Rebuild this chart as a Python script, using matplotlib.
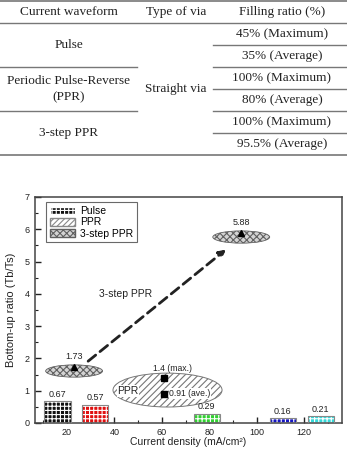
import matplotlib
matplotlib.use("Agg")
import matplotlib.pyplot as plt
from matplotlib.patches import Ellipse, Patch
from matplotlib.ticker import MultipleLocator

plt.rcParams["hatch.linewidth"] = 0.8

# ---------------- table data ----------------
table_header = ["Current waveform", "Type of via", "Filling ratio (%)"]
waveforms = ["Pulse", "Periodic Pulse-Reverse\n(PPR)", "3-step PPR"]
via_type = "Straight via"
filling = ["45% (Maximum)", "35% (Average)", "100% (Maximum)", "80% (Average)",
           "100% (Maximum)", "95.5% (Average)"]

# ---------------- chart data ----------------
bar_density = [16, 32, 79, 111, 127]
bar_ratio = [0.67, 0.57, 0.29, 0.16, 0.21]
bar_colors = ["#111111", "#e01010", "#30d030", "#1515c0", "#35d8d8"]
bar_labels = ["0.67", "0.57", "0.29", "0.16", "0.21"]

step3_density = [23, 93.5]
step3_ratio = [1.73, 5.88]
step3_labels = ["1.73", "5.88"]

ppr_density = [61, 61]
ppr_ratio = [1.4, 0.91]
ppr_labels = ["1.4 (max.)", "0.91 (ave.)"]

W, H = 347, 451
fig = plt.figure(figsize=(W / 100, H / 100), dpi=100)

# ---------------- table ----------------
tax = fig.add_axes([0, 0, 1, 1])
tax.set_xlim(0, W)
tax.set_ylim(H, 0)
tax.axis("off")
serif = "Liberation Serif"
tc = "#222222"
lc = "#777777"
fs = 9.5
row_h = 22
y0 = 1
col_x = [69, 176, 282]
for x, t in zip(col_x, table_header):
    tax.text(x, y0 + row_h / 2, t, ha="center", va="center", family=serif, fontsize=fs, color=tc)
tax.plot([0, W], [y0, y0], color=lc, lw=1.2)
tax.plot([0, W], [y0 + row_h, y0 + row_h], color=lc, lw=1.0)
for i, t in enumerate(filling):
    yc = y0 + row_h * (i + 1.5)
    tax.text(col_x[2], yc, t, ha="center", va="center", family=serif, fontsize=fs, color=tc)
    if i < len(filling) - 1:
        yl = y0 + row_h * (i + 2)
        tax.plot([213, W], [yl, yl], color=lc, lw=1.0)
for j, t in enumerate(waveforms):
    yc = y0 + row_h * (1 + 2 * j + 1)
    tax.text(col_x[0], yc, t, ha="center", va="center", family=serif, fontsize=fs, color=tc,
             linespacing=1.5)
    if j < len(waveforms) - 1:
        yl = y0 + row_h * (1 + 2 * (j + 1))
        tax.plot([0, 137], [yl, yl], color=lc, lw=1.0)
tax.text(col_x[1], y0 + row_h * 4, via_type, ha="center", va="center", family=serif,
         fontsize=fs, color=tc)
yb = y0 + row_h * 7
tax.plot([0, W], [yb, yb], color=lc, lw=1.2)

# ---------------- chart ----------------
sans = "Liberation Sans"
ax = fig.add_axes([35 / W, 1 - 423 / H, (342 - 35) / W, (423 - 197) / H])
ax.set_xlim(6.5, 136)
ax.set_ylim(0, 7)
ax.xaxis.set_major_locator(MultipleLocator(20))
ax.xaxis.set_minor_locator(MultipleLocator(10))
ax.yaxis.set_major_locator(MultipleLocator(1))
ax.yaxis.set_minor_locator(MultipleLocator(0.5))
ax.tick_params(which="both", direction="in", top=False, right=False, labelsize=6.5,
               colors="#222222")
ax.tick_params(axis="x", pad=3.5)
ax.tick_params(axis="y", pad=4)
ax.tick_params(which="major", length=4, width=1)
ax.tick_params(which="minor", length=2.5, width=0.8)
for lab in ax.get_xticklabels() + ax.get_yticklabels():
    lab.set_family(sans)
for s in ax.spines.values():
    s.set_linewidth(1.1)
    s.set_color("#444444")

# bars: colored fill with white grid hatch, grey outline
ax.bar(bar_density, bar_ratio, width=11, color=bar_colors, edgecolor="white",
       hatch="++++", linewidth=0, zorder=2)
ax.bar(bar_density, bar_ratio, width=11, fill=False, edgecolor="#888888",
       linewidth=0.8, zorder=3)
for x, v, l in zip(bar_density, bar_ratio, bar_labels):
    ax.text(x, v + 0.07, l, ha="center", va="bottom", fontsize=6.5, family=sans, color="#222")

# 3-step PPR ellipses
for x, v in zip(step3_density, step3_ratio):
    ax.add_patch(Ellipse((x, v - 0.12), 24, 0.38, facecolor="#d4d4d4", edgecolor="#606060",
                         hatch="xxxxx", linewidth=0.6, zorder=2))
ax.plot(step3_density, step3_ratio, linestyle="none", marker="^", color="black",
        markersize=5, zorder=4)
for x, v, l in zip(step3_density, step3_ratio, step3_labels):
    ax.text(x, v + 0.2, l, ha="center", va="bottom", fontsize=6.5, family=sans, color="#222")

ax.annotate("", xy=(step3_density[1] - 5.5, step3_ratio[1] - 0.45),
            xytext=(step3_density[0] + 5, step3_ratio[0] + 0.13),
            arrowprops=dict(arrowstyle="-|>", linestyle=(0, (3.5, 2)), lw=2,
                            color="#222222", mutation_scale=10), zorder=4)
ax.text(44.5, 4.0, "3-step PPR", ha="center", va="center", fontsize=7.5, family=sans,
        color="#222")

# PPR ellipse
ax.add_patch(Ellipse((62.4, 1.02), 46, 1.05, facecolor="white", edgecolor="#777777",
                     hatch="/////", linewidth=0.7, zorder=2))
ax.plot(ppr_density, ppr_ratio, linestyle="none", marker="s", color="black",
        markersize=3.8, zorder=4)
ax.text(ppr_density[0] + 3.5, ppr_ratio[0] + 0.3, ppr_labels[0], ha="center", va="center",
        fontsize=6.2, family=sans, color="#222", zorder=5)
ax.text(ppr_density[1] + 2.2, ppr_ratio[1], ppr_labels[1], ha="left", va="center",
        fontsize=6.2, family=sans, color="#222", zorder=5,
        bbox=dict(facecolor="white", edgecolor="none", pad=0.5))
ax.text(45.7, 0.99, "PPR", ha="center", va="center", fontsize=7.5, family=sans,
        color="#222", zorder=5, bbox=dict(facecolor="white", edgecolor="none", pad=0.5))

# legend
handles = [Patch(facecolor="#111111", edgecolor="white", hatch="++++", label="Pulse"),
           Patch(facecolor="white", edgecolor="#888888", hatch="//////", label="PPR"),
           Patch(facecolor="#d4d4d4", edgecolor="#606060", hatch="xxxxx", label="3-step PPR")]
leg = ax.legend(handles=handles, loc="upper left", bbox_to_anchor=(0.03, 0.985),
                prop={"family": sans, "size": 7.5}, frameon=True, fancybox=False,
                edgecolor="#444444", handlelength=2.4, handleheight=0.8,
                borderpad=0.35, labelspacing=0.12, handletextpad=0.5, borderaxespad=0.2)
leg.get_frame().set_linewidth(0.8)

ax.set_xlabel("Current density (mA/cm²)", fontsize=7.5, family=sans, color="#222",
              labelpad=0)
ax.set_ylabel("Bottom-up ratio (Tb/Ts)", fontsize=8, family=sans, color="#222", labelpad=6)

fig.savefig("out.png", dpi=100)
